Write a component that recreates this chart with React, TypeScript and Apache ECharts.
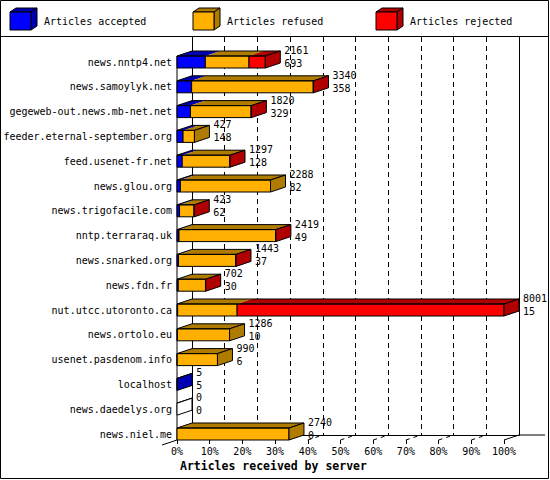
import { useEffect, useRef } from "react";
import * as echarts from "echarts";

// Servers, top to bottom
const servers = [
  "news.nntp4.net",
  "news.samoylyk.net",
  "gegeweb-out.news.mb-net.net",
  "feeder.eternal-september.org",
  "feed.usenet-fr.net",
  "news.glou.org",
  "news.trigofacile.com",
  "nntp.terraraq.uk",
  "news.snarked.org",
  "news.fdn.fr",
  "nut.utcc.utoronto.ca",
  "news.ortolo.eu",
  "usenet.pasdenom.info",
  "localhost",
  "news.daedelys.org",
  "news.niel.me",
];

const accepted = [693, 358, 329, 148, 128, 82, 62, 49, 37, 30, 15, 10, 6, 5, 0, 0];
const refused = [1068, 2975, 1485, 279, 1164, 2206, 356, 2362, 1400, 667, 1456, 1276, 984, 0, 0, 2740];
const rejected = [400, 7, 6, 0, 5, 0, 5, 8, 6, 5, 6530, 0, 0, 0, 0, 0];

const seriesNames = ["Articles accepted", "Articles refused", "Articles rejected"];
const tickPercents = [0, 10, 20, 30, 40, 50, 60, 70, 80, 90, 100];
const axisTitle = "Articles received by server";

const FRONT_COLORS = ["#0000ff", "#ffb000", "#ff0000"];
const SIDE_COLORS = ["#0000b0", "#b07c00", "#b00000"];
const FONT = "'DejaVu Sans Mono', 'Liberation Mono', monospace";

// oblique depth of the boxes
const DX = 15;
const DY = -5;
const BAR_H = 12;

export default function App() {
  const chartRef = useRef<HTMLDivElement>(null);

  useEffect(() => {
    if (!chartRef.current) return;
    const chart = echarts.init(chartRef.current, null, { renderer: "svg" });

    const totals = servers.map((_, i) => accepted[i] + refused[i] + rejected[i]);
    const maxTotal = Math.max(...totals);
    const pct = (v: number) => (v * 100) / maxTotal;

    const barData = servers.map((_, i) => [
      pct(accepted[i]),
      pct(refused[i]),
      pct(rejected[i]),
      i,
      totals[i],
      accepted[i],
    ]);

    // legend drawn as little 3D boxes
    const legendX = [10, 193, 376];
    const legend = seriesNames.map((name, s) => {
      const x = legendX[s];
      return {
        type: "group",
        children: [
          {
            type: "polygon",
            shape: { points: [[x, 12], [x + 21, 12], [x + 27, 8], [x + 6, 8]] },
            style: { fill: SIDE_COLORS[s], stroke: "#000", lineWidth: 1 },
          },
          {
            type: "polygon",
            shape: { points: [[x + 21, 12], [x + 27, 8], [x + 27, 26], [x + 21, 30]] },
            style: { fill: SIDE_COLORS[s], stroke: "#000", lineWidth: 1 },
          },
          {
            type: "rect",
            shape: { x: x, y: 12, width: 21, height: 18 },
            style: { fill: FRONT_COLORS[s], stroke: "#000", lineWidth: 1 },
          },
          {
            type: "text",
            x: x + 34,
            y: 21,
            style: {
              text: name,
              fill: "#000",
              font: `10px ${FONT}`,
              verticalAlign: "middle",
            },
          },
        ],
      };
    });

    chart.setOption({
      animation: false,
      title: {
        text: axisTitle,
        left: 180,
        top: 460,
        padding: 0,
        textStyle: {
          fontFamily: FONT,
          fontSize: 11.5,
          fontWeight: "bold",
          color: "#000",
        },
      },
      grid: [
        // front plane
        { left: 177, right: 46, top: 43.2, bottom: 40, outerBoundsMode: "none" },
        // back wall
        { left: 192, right: 31, top: 37, bottom: 45, outerBoundsMode: "none" },
      ],
      xAxis: [
        {
          gridIndex: 0,
          type: "value",
          min: 0,
          max: 100,
          interval: 10,
          z: 0,
          axisLine: { show: false },
          axisTick: { show: true, length: 4, lineStyle: { color: "#000" } },
          axisLabel: {
            formatter: "{value}%",
            margin: 6,
            color: "#000",
            fontFamily: FONT,
            fontSize: 10,
          },
          splitLine: { show: false },
        },
        {
          gridIndex: 1,
          type: "value",
          min: 0,
          max: 100,
          interval: 10,
          z: 0,
          axisLine: { show: true, lineStyle: { color: "#000" } },
          axisTick: { show: false },
          axisLabel: { show: false },
          splitLine: {
            show: true,
            showMinLine: false,
            showMaxLine: false,
            lineStyle: { color: "#000", type: [5, 4] },
          },
        },
      ],
      yAxis: [
        {
          gridIndex: 0,
          type: "category",
          data: servers,
          inverse: true,
          z: 0,
          axisLine: { show: false },
          axisTick: { show: false },
          axisLabel: {
            interval: 0,
            margin: 5,
            color: "#000",
            fontFamily: FONT,
            fontSize: 10,
            verticalAlign: "top",
            lineHeight: 13,
          },
          splitLine: { show: false },
        },
        {
          gridIndex: 1,
          type: "value",
          min: 0,
          max: 1,
          z: 0,
          axisLine: { show: true, lineStyle: { color: "#000" } },
          axisTick: { show: false },
          axisLabel: { show: false },
          splitLine: { show: false },
        },
        {
          gridIndex: 1,
          type: "value",
          position: "right",
          min: 0,
          max: 1,
          z: 0,
          axisLine: { show: true, lineStyle: { color: "#000" } },
          axisTick: { show: false },
          axisLabel: { show: false },
          splitLine: { show: false },
        },
      ],
      graphic: [
        {
          type: "rect",
          shape: { x: 0.5, y: 0.5, width: 548, height: 478 },
          style: { fill: "none", stroke: "#000", lineWidth: 1 },
        },
        {
          type: "line",
          shape: { x1: 0, y1: 36.5, x2: 549, y2: 36.5 },
          style: { stroke: "#000", lineWidth: 1 },
        },
        {
          type: "line",
          shape: { x1: 519, y1: 435, x2: 545, y2: 435 },
          style: { stroke: "#000", lineWidth: 1 },
        },
        ...legend,
      ],
      series: [
        {
          // floor grid lines and the front left edge
          type: "custom",
          xAxisIndex: 0,
          yAxisIndex: 0,
          silent: true,
          z: 3,
          encode: { x: 0, y: 1 },
          data: tickPercents.map((v) => [v, 0]),
          renderItem: (params: any, api: any) => {
            const v = api.value(0);
            const cs = params.coordSys;
            const bottom = cs.y + cs.height;
            const x = api.coord([v, 0])[0];
            const band = api.size([0, 1])[1];
            const edge = v === 0 || v === 100;
            const children: any[] = [
              {
                type: "line",
                shape: {
                  x1: v === 0 ? x - DX : x,
                  y1: v === 0 ? bottom - DY : bottom,
                  x2: x + DX,
                  y2: bottom + DY,
                },
                style: {
                  stroke: "#000",
                  lineWidth: 1,
                  lineDash: edge ? null : [4, 4],
                },
              },
            ];
            if (v === 0) {
              const firstTop = api.coord([0, 0])[1] + band / 2 - BAR_H;
              children.push({
                type: "line",
                shape: { x1: x, y1: bottom, x2: x, y2: firstTop },
                style: { stroke: "#000", lineWidth: 1 },
              });
            }
            return { type: "group", children };
          },
        },
        {
          type: "custom",
          xAxisIndex: 0,
          yAxisIndex: 0,
          silent: true,
          z: 5,
          encode: { x: [0, 1, 2], y: 3 },
          data: barData,
          renderItem: (params: any, api: any) => {
            const cat = api.value(3);
            const band = api.size([0, 1])[1];
            const origin = api.coord([0, cat]);
            const bottom = origin[1] + band / 2;
            const top = bottom - BAR_H;
            const xStart = origin[0];
            const children: any[] = [];
            let cum = 0;
            let endX = xStart;
            let sideFill = "#ffffff";
            for (let s = 0; s < 3; s++) {
              const v = api.value(s);
              if (v <= 0) continue;
              const x0 = api.coord([cum, cat])[0];
              cum += v;
              const x1 = api.coord([cum, cat])[0];
              children.push({
                type: "polygon",
                shape: { points: [[x0, top], [x1, top], [x1 + DX, top + DY], [x0 + DX, top + DY]] },
                style: { fill: SIDE_COLORS[s] },
              });
              children.push({
                type: "rect",
                shape: { x: x0, y: top, width: x1 - x0, height: BAR_H },
                style: { fill: FRONT_COLORS[s], stroke: "#000", lineWidth: 1 },
              });
              endX = x1;
              sideFill = SIDE_COLORS[s];
            }
            // outline of the top face
            children.push({
              type: "polygon",
              shape: { points: [[xStart, top], [endX, top], [endX + DX, top + DY], [xStart + DX, top + DY]] },
              style: { fill: "none", stroke: "#000", lineWidth: 1 },
            });
            // right side face
            children.push({
              type: "polygon",
              shape: { points: [[endX, top], [endX + DX, top + DY], [endX + DX, bottom + DY], [endX, bottom]] },
              style: { fill: sideFill, stroke: "#000", lineWidth: 1 },
            });
            children.push({
              type: "text",
              x: endX + DX + 4,
              y: top + 1,
              style: {
                text: `${api.value(4)}\n${api.value(5)}`,
                fill: "#000",
                font: `10px ${FONT}`,
                verticalAlign: "middle",
                lineHeight: 13,
              },
            });
            return { type: "group", children };
          },
        },
      ],
    });

    return () => {
      chart.dispose();
    };
  }, []);

  return (
    <div
      ref={chartRef}
      style={{ position: "fixed", left: 0, top: 0, width: 550, height: 480, background: "#fff" }}
    />
  );
}
